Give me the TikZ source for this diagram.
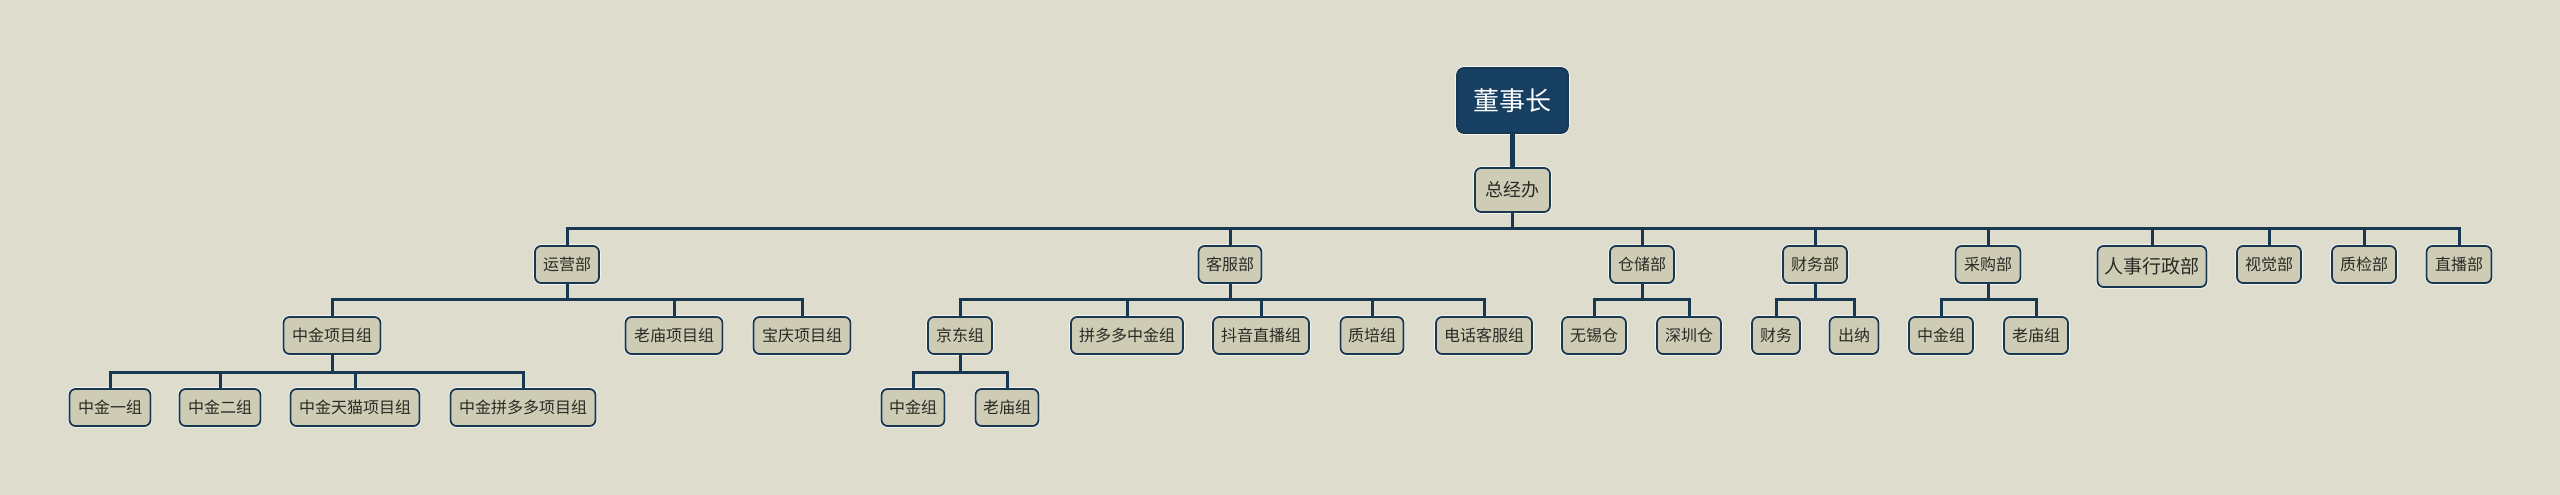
\documentclass[tikz,border=0pt]{standalone}
\usepackage{fontspec}
\setmainfont{Noto Sans CJK SC}
\begin{document}
\begin{tikzpicture}[x=1pt,y=-1pt,
  box/.style={draw=linecol, line width=1.8pt, fill=boxfill, rounded corners=6pt,
    inner sep=0pt, align=center, font=\fontsize{16}{17}\selectfont, text=textcol,
    preaction={draw=white, line width=3.2pt}},
  rootbox/.style={box, fill=rootfill, text=white, font=\fontsize{26}{28}\selectfont, rounded corners=7pt},
  conn/.style={draw=linecol, line width=3pt},
  thickconn/.style={draw=linecol, line width=4.5pt},
]
\definecolor{bgcol}{HTML}{DEDCCD}
\definecolor{boxfill}{HTML}{CFCCB5}
\definecolor{linecol}{HTML}{183750}
\definecolor{rootfill}{HTML}{173F62}
\definecolor{textcol}{HTML}{2A2A25}
\fill[bgcol] (0,0) rectangle (2560,495);
\useasboundingbox (0,0) rectangle (2560,495);

% root and general office
\node[rootbox, minimum width=111pt, minimum height=65pt] (root) at (1512.5,100.5) {董事长};
\node[box, minimum width=75pt, minimum height=44pt, font=\fontsize{18}{19}\selectfont] (zjb) at (1512.5,190) {总经办};

% level 1
\node[box, minimum width=64pt, minimum height=37pt] (yy) at (567,264.5) {运营部};
\node[box, minimum width=63pt, minimum height=37pt] (kf) at (1230,264.5) {客服部};
\node[box, minimum width=64pt, minimum height=37pt] (cc) at (1642,264.5) {仓储部};
\node[box, minimum width=64pt, minimum height=37pt] (cw) at (1815,264.5) {财务部};
\node[box, minimum width=65pt, minimum height=37pt] (cg) at (1988,264.5) {采购部};
\node[box, minimum width=109pt, minimum height=41pt, font=\fontsize{19}{20}\selectfont] (rs) at (2152,266.5) {人事行政部};
\node[box, minimum width=64pt, minimum height=37pt] (sj) at (2269,264.5) {视觉部};
\node[box, minimum width=64pt, minimum height=37pt] (zj) at (2364,264.5) {质检部};
\node[box, minimum width=65pt, minimum height=37pt] (zb) at (2459,264.5) {直播部};

% level 2
\node[box, minimum width=97pt, minimum height=37pt] (zjxm) at (332,335.5) {中金项目组};
\node[box, minimum width=97pt, minimum height=37pt] (lmxm) at (674,335.5) {老庙项目组};
\node[box, minimum width=97pt, minimum height=37pt] (bqxm) at (802,335.5) {宝庆项目组};
\node[box, minimum width=64pt, minimum height=37pt] (jd) at (960,335.5) {京东组};
\node[box, minimum width=112pt, minimum height=37pt] (pdd) at (1127,335.5) {拼多多中金组};
\node[box, minimum width=96pt, minimum height=37pt] (dy) at (1261,335.5) {抖音直播组};
\node[box, minimum width=63pt, minimum height=37pt] (zp) at (1372,335.5) {质培组};
\node[box, minimum width=96pt, minimum height=37pt] (dh) at (1484,335.5) {电话客服组};
\node[box, minimum width=64pt, minimum height=37pt] (wx) at (1594,335.5) {无锡仓};
\node[box, minimum width=64pt, minimum height=37pt] (sz) at (1689,335.5) {深圳仓};
\node[box, minimum width=48pt, minimum height=37pt] (cwu) at (1776,335.5) {财务};
\node[box, minimum width=49pt, minimum height=37pt] (cn) at (1854,335.5) {出纳};
\node[box, minimum width=64pt, minimum height=37pt] (cgzj) at (1941,335.5) {中金组};
\node[box, minimum width=64pt, minimum height=37pt] (cglm) at (2036,335.5) {老庙组};

% level 3
\node[box, minimum width=81pt, minimum height=37pt] (zj1) at (110,407.5) {中金一组};
\node[box, minimum width=81pt, minimum height=37pt] (zj2) at (220,407.5) {中金二组};
\node[box, minimum width=129pt, minimum height=37pt] (zjtm) at (355,407.5) {中金天猫项目组};
\node[box, minimum width=145pt, minimum height=37pt] (zjpdd) at (523,407.5) {中金拼多多项目组};
\node[box, minimum width=63pt, minimum height=37pt] (jdzj) at (913,407.5) {中金组};
\node[box, minimum width=63pt, minimum height=37pt] (jdlm) at (1007,407.5) {老庙组};

% connectors
\draw[thickconn] (root.south) -- (zjb.north);
\foreach \c in {yy,kf,cc,cw,cg,rs,sj,zj,zb}
  \draw[conn] (zjb.south) -- (zjb.south |- 0,228) -| (\c.north);
\foreach \c in {zjxm,lmxm,bqxm}
  \draw[conn] (yy.south) -- (yy.south |- 0,299) -| (\c.north);
\foreach \c in {jd,pdd,dy,zp,dh}
  \draw[conn] (kf.south) -- (kf.south |- 0,299) -| (\c.north);
\foreach \c in {wx,sz}
  \draw[conn] (cc.south) -- (cc.south |- 0,299) -| (\c.north);
\foreach \c in {cwu,cn}
  \draw[conn] (cw.south) -- (cw.south |- 0,299) -| (\c.north);
\foreach \c in {cgzj,cglm}
  \draw[conn] (cg.south) -- (cg.south |- 0,299) -| (\c.north);
\foreach \c in {zj1,zj2,zjtm,zjpdd}
  \draw[conn] (zjxm.south) -- (zjxm.south |- 0,372) -| (\c.north);
\foreach \c in {jdzj,jdlm}
  \draw[conn] (jd.south) -- (jd.south |- 0,372) -| (\c.north);
\end{tikzpicture}
\end{document}
